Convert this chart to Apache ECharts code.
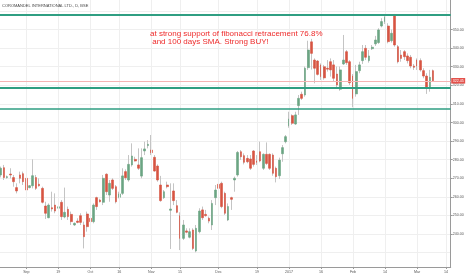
<!DOCTYPE html>
<html><head><meta charset="utf-8">
<script src="https://cdn.jsdelivr.net/npm/echarts@6/dist/echarts.min.js"></script>
<style>html,body{margin:0;padding:0;background:#fff}#c{width:466px;height:275px}</style>
</head><body><div id="c"></div>
<script>
const chartTitle = 'COROMANDEL INTERNATIONAL LTD., D, BSE';
const noteLines = ['at strong support of fibonacci retracement 76.8%', ' and 100 days SMA. Strong BUY!'];

const openVals = [271.8,275.7,270.4,272.3,270.4,265.0,271.8,272.5,270.0,265.0,
266.0,270.4,266.8,264.6,255.1,248.8,254.2,255.6,253.9,257.1,
249.2,253.3,250.6,244.9,247.0,249.9,244.9,250.8,248.5,246.7,
259.6,258.3,257.1,272.2,261.0,269.1,265.5,259.8,261.9,273.6,
269.1,277.2,280.2,277.2,271.2,284.7,287.6,285.2,281.3,276.6,
266.4,259.6,266.4,252.8,263.2,255.3,249.9,237.7,241.7,238.3,
242.2,230.9,241.3,253.0,250.6,248.5,244.9,259.6,266.8,267.3,
261.9,247.6,259.6,269.1,271.8,284.3,282.2,280.7,280.4,284.7,
279.3,284.3,275.4,282.9,282.9,282.5,275.4,271.4,283.2,289.7,
298.3,303.7,299.2,309.1,315.2,314.8,329.5,343.4,333.6,333.1,
330.9,330.0,329.2,332.7,331.0,326.1,317.9,331.5,338.1,332.7,
325.0,315.4,327.9,333.3,339.9,333.3,339.7,342.3,343.0,351.9,
354.3,351.9,344.0,357.9,340.8,336.3,338.1,335.8,335.1,330.4,
333.6,333.3,327.9,325.0,318.4,327.9];
const closeVals = [275.4,270.4,270.9,271.8,268.2,263.2,270.0,268.2,263.7,266.0,
271.4,264.6,266.0,257.1,251.2,255.6,253.5,252.4,254.7,249.4,
251.7,249.4,246.7,245.8,246.3,246.3,238.6,244.0,246.7,255.6,
254.8,257.4,270.0,262.8,267.3,264.6,257.4,261.6,271.3,270.3,
277.5,282.0,279.3,275.4,281.1,285.8,288.3,283.8,273.9,269.1,
258.0,262.8,265.5,253.5,258.0,251.7,237.7,244.9,241.0,241.3,
232.3,243.1,252.4,248.8,249.9,247.0,256.5,263.7,264.6,254.8,
251.2,254.8,258.7,270.0,283.9,281.6,278.6,278.9,275.4,277.5,
278.6,279.3,282.9,278.0,275.4,272.7,270.9,279.8,286.5,292.4,
301.9,299.6,304.1,313.0,313.0,329.2,339.0,337.2,329.2,325.9,
324.7,324.0,328.7,328.3,323.8,320.2,328.3,333.6,332.2,321.4,
313.0,327.4,331.0,338.1,335.1,335.8,340.5,344.4,349.8,354.3,
356.6,343.5,348.0,341.7,332.7,334.5,335.4,333.3,330.4,329.7,
330.4,328.3,325.0,318.4,324.3,322.45];
const lowVals = [270.5,269.1,269.8,270.0,265.5,261.9,267.3,266.4,262.8,264.6,
264.6,263.7,265.5,256.5,248.1,248.5,252.1,251.2,253.0,247.6,
248.5,247.6,244.9,244.4,245.8,244.9,232.3,241.3,245.8,245.8,
253.0,257.0,255.6,261.0,257.4,263.7,256.5,259.2,261.0,269.1,
268.2,276.3,279.0,274.5,270.0,282.5,286.1,282.5,273.6,268.2,
257.4,258.9,264.6,232.0,255.6,251.2,231.4,236.8,240.4,237.7,
231.4,230.2,240.4,247.6,249.4,245.8,242.2,255.6,264.3,253.9,
250.3,247.0,253.0,262.8,270.9,279.9,277.5,278.1,274.5,276.3,
277.2,278.6,274.5,277.2,274.5,271.4,267.8,269.6,278.9,288.8,
297.2,298.7,298.7,304.1,312.1,313.9,328.3,328.5,321.1,325.3,
322.9,323.0,327.4,324.7,322.0,318.9,317.1,331.0,331.0,320.2,
308.2,313.9,326.5,331.5,333.6,332.2,339.0,341.2,342.3,351.2,
353.0,342.6,343.0,340.8,331.8,332.7,333.6,331.8,329.2,328.3,
328.3,327.4,323.8,315.4,316.6,322.0];
const highVals = [276.3,277.2,271.5,275.4,271.8,267.3,273.6,273.6,270.9,266.4,
280.2,271.8,270.0,265.5,257.4,256.5,262.8,261.9,256.0,258.3,
265.0,254.8,252.1,246.3,248.5,251.2,246.7,252.1,249.4,256.5,
260.1,259.0,271.8,272.7,269.1,270.0,266.4,262.8,275.4,274.8,
282.5,288.8,281.6,286.1,286.1,289.7,290.6,293.3,282.5,277.5,
271.3,263.7,268.2,267.3,267.3,258.3,251.7,247.6,243.1,243.1,
243.1,244.9,253.9,254.8,253.0,249.4,258.3,266.4,269.1,268.2,
262.8,256.5,260.1,270.9,284.7,285.2,283.4,282.5,282.5,285.2,
282.5,289.7,283.4,289.3,283.4,283.4,276.3,281.1,287.9,293.3,
305.8,304.4,305.8,314.8,316.6,330.1,344.0,345.0,334.5,333.6,
331.8,331.0,333.6,334.5,333.6,330.1,330.1,347.1,339.0,333.6,
326.1,331.0,332.7,341.7,341.7,339.0,341.7,346.6,350.7,356.1,
358.0,353.4,350.0,358.4,341.7,339.0,339.0,337.2,336.3,331.5,
334.5,334.5,329.2,326.5,328.3,328.5];

const xTickIndex = [8,18,28,37,47,56,68,80,90,100,110,120,130,139];
const xTickText = ['Sep','19','Oct','16','Nov','15','Dec','19','2017','16','Feb','14','Mar','14'];
const yTickValues = [230,240,250,260,270,280,290,300,310,320,330,340,350,360];
const levelLines = [357.98, 318.6, 307.66];
const lastPrice = 322.45;
const totalSlots = 141;

const categories = Array.from({length: totalSlots}, (_, i) => String(i));
const tickLabelAt = {};
xTickIndex.forEach((idx, k) => { tickLabelAt[idx] = xTickText[k]; });
const isTick = (idx) => tickLabelAt.hasOwnProperty(idx);

const wickData = openVals.map((o, i) => [o, closeVals[i], lowVals[i], highVals[i]]);
const bodyData = openVals.map((o, i) => [o, closeVals[i], Math.min(o, closeVals[i]), Math.max(o, closeVals[i])]);

const FONT = 'Liberation Sans, Arial, sans-serif';
const UP = '#6ba583', DOWN = '#d75442', WICK = '#c4c4c4', LEVEL = '#2f9e82', GRIDC = '#efefef', AXIS = '#9a9a9a';

const chart = echarts.init(document.getElementById('c'), null, {renderer: 'canvas'});
chart.setOption({
  animation: false,
  backgroundColor: '#ffffff',
  grid: {left: -0.9, right: 15.3, top: 0, bottom: 8, containLabel: false, outerBoundsMode: 'none'},
  xAxis: {
    type: 'category', data: categories, boundaryGap: true,
    axisLine: {show: true, lineStyle: {color: AXIS, width: 1}},
    axisTick: {show: true, alignWithLabel: true, interval: isTick, length: 2, lineStyle: {color: AXIS}},
    axisLabel: {show: true, interval: isTick, formatter: (v, i) => tickLabelAt[i] || '', fontSize: 3.6, color: '#555', margin: 2.5, fontFamily: FONT},
    splitLine: {show: false}
  },
  yAxis: {
    type: 'value', position: 'right', min: 222.3, max: 365.9, splitNumber: 14,
    axisLine: {show: true, lineStyle: {color: AXIS, width: 1}},
    axisTick: {show: true, length: 2, customValues: yTickValues, lineStyle: {color: AXIS}},
    axisLabel: {show: true, customValues: yTickValues, formatter: v => Number(v).toFixed(2), fontSize: 3.6, color: '#555', margin: 2, fontFamily: FONT, showMinLabel: false, showMaxLabel: false},
    splitLine: {show: true, lineStyle: {color: GRIDC, width: 1}}
  },
  graphic: [
    {type: 'text', left: 2, top: 3.6, z: 100, style: {text: chartTitle, fontSize: 4, fill: '#444', fontFamily: FONT}},
    {type: 'text', left: 150, top: 29.5, z: 100, style: {text: noteLines[0], fontSize: 8, fill: '#ee2b2b', fontFamily: FONT}},
    {type: 'text', left: 150, top: 38, z: 100, style: {text: noteLines[1], fontSize: 8, fill: '#ee2b2b', fontFamily: FONT}}
  ],
  series: [
    {
      name: 'grid-v', type: 'line', data: [], z: 0, silent: true,
      markLine: {silent: true, symbol: ['none', 'none'], animation: false,
        lineStyle: {color: GRIDC, width: 1, type: 'solid'}, label: {show: false},
        data: xTickIndex.map(idx => ({xAxis: String(idx)}))}
    },
    {
      name: 'price', type: 'line', data: [], z: 1, silent: true,
      markLine: {silent: true, symbol: ['none', 'none'], animation: false,
        data: [{yAxis: lastPrice, lineStyle: {color: '#f5b3b3', width: 1, type: 'solid', opacity: 1}}],
        label: {show: true, position: 'end', formatter: lastPrice.toFixed(2), color: '#fff', backgroundColor: '#e4524c', fontSize: 3.6, padding: [1, 1.5, 0.6, 1.5], distance: 0.5, fontFamily: FONT}}
    },
    {
      name: 'wick', type: 'candlestick', data: wickData, barWidth: 1, z: 2, silent: true,
      itemStyle: {color: WICK, color0: WICK, borderColor: WICK, borderColor0: WICK, borderWidth: 1}
    },
    {
      name: 'body', type: 'candlestick', data: bodyData, barWidth: 2.2, z: 3, silent: true,
      itemStyle: {color: UP, color0: DOWN, borderColor: UP, borderColor0: DOWN, borderWidth: 0.6}
    },
    {
      name: 'levels', type: 'line', data: [], z: 5, silent: true,
      markLine: {silent: true, symbol: ['none', 'none'], animation: false, label: {show: false},
        data: [
          {yAxis: levelLines[0], lineStyle: {color: LEVEL, width: 2, type: 'solid'}},
          {yAxis: levelLines[1], lineStyle: {color: LEVEL, width: 2, type: 'solid'}},
          {yAxis: levelLines[2], lineStyle: {color: LEVEL, width: 1.6, type: 'solid'}}
        ]}
    }
  ]
});
</script>
</body></html>
